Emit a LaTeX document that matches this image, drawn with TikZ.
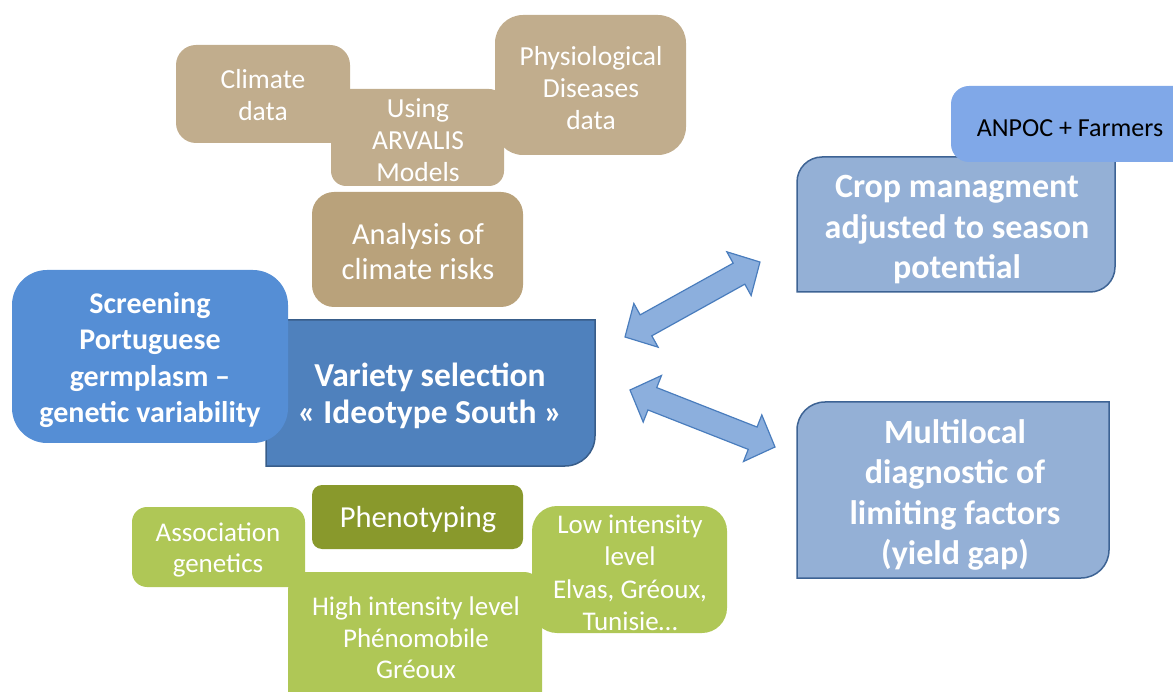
\documentclass[tikz,border=0pt]{standalone}
\usepackage{fontspec}
\setmainfont{Carlito}
\definecolor{tanA}{HTML}{C1AD8D}
\definecolor{tanB}{HTML}{B9A27B}
\definecolor{blueS}{HTML}{558ED5}
\definecolor{blueV}{HTML}{4F81BD}
\definecolor{blueVb}{HTML}{385D8A}
\definecolor{blueA}{HTML}{80A8E8}
\definecolor{blueC}{HTML}{94B0D6}
\definecolor{blueCb}{HTML}{3D6394}
\definecolor{arrF}{HTML}{8CAFDD}
\definecolor{arrD}{HTML}{4A7DBD}
\definecolor{greenA}{HTML}{AFC756}
\definecolor{greenP}{HTML}{89992C}
\tikzset{
  lbl/.style={text=white, align=center, inner sep=0pt},
  tantxt/.style={lbl, font=\fontsize{27.5}{32}\selectfont},
  bigtxt/.style={lbl, font=\fontsize{30.5}{35}\selectfont},
  boldtxt/.style={lbl, font=\bfseries\fontsize{30}{36.5}\selectfont},
  bluetxt/.style={lbl, font=\bfseries\fontsize{34}{40.5}\selectfont},
  greentxt/.style={lbl, font=\fontsize{27}{31.5}\selectfont},
  dblarrow/.style={fill=arrF, draw=arrD, line width=1.2pt, line join=miter},
}
\begin{document}
\begin{tikzpicture}[x=1pt,y=-1pt]
\useasboundingbox (0,0) rectangle (1173,692);
\clip (0,0) rectangle (1173,692);
% tan boxes
\fill[tanA, rounded corners=20pt] (176,45) rectangle (350,143);
\fill[tanA, rounded corners=15pt] (331,89) rectangle (504,186);
\fill[tanA, rounded corners=28pt] (495,15) rectangle (686,155);
\fill[tanB, rounded corners=22pt] (312,192) rectangle (523,307);
% variety box
\draw[fill=blueV, draw=blueVb, line width=1.5pt] (266,320) -- (595,320) -- (595,436)
  .. controls (595,452.6) and (581.6,466) .. (565,466) -- (266,466) -- cycle;
% screening
\fill[blueS, rounded corners=35pt] (12,270) rectangle (288,443);
% crop box
\draw[fill=blueC, draw=blueCb, line width=1.5pt] (822,157) -- (1115,157) -- (1115,267)
  .. controls (1115,280.8) and (1103.8,292) .. (1090,292) -- (797,292) -- (797,182)
  .. controls (797,168.2) and (808.2,157) .. (822,157) -- cycle;
% anpoc
\fill[blueA, rounded corners=18pt] (951,86) rectangle (1200,162);
% multilocal
\draw[fill=blueC, draw=blueCb, line width=1.5pt] (825,402) -- (1109,402) -- (1109,550)
  .. controls (1109,565.5) and (1096.5,578) .. (1081,578) -- (797,578) -- (797,430)
  .. controls (797,414.5) and (809.5,402) .. (825,402) -- cycle;
% green boxes
\fill[greenA, rounded corners=15pt] (132,507) rectangle (305,587);
\fill[greenA, rounded corners=18pt] (288,572) rectangle (542,720);
\fill[greenA, rounded corners=25pt] (532,506) rectangle (727,633);
\fill[greenP, rounded corners=10pt] (312,485) rectangle (523,549);
% arrows
\coordinate (a1) at (625,337);
\coordinate (a2) at (760,262);
\coordinate (b1) at (630,390);
\coordinate (b2) at (775,447);
\begin{scope}[shift={(a1)}, rotate=29.05]
\draw[dblarrow] (0,0) -- (24,25) -- (24,12) -- (130.4,12) -- (130.4,25) -- (154.4,0)
  -- (130.4,-25) -- (130.4,-12) -- (24,-12) -- (24,-25) -- cycle;
\end{scope}
\begin{scope}[shift={(b1)}, rotate=-21.46]
\draw[dblarrow] (0,0) -- (24,25) -- (24,12) -- (131.8,12) -- (131.8,25) -- (155.8,0)
  -- (131.8,-25) -- (131.8,-12) -- (24,-12) -- (24,-25) -- cycle;
\end{scope}
% texts
\node[tantxt] (climate) at (263,95) {Climate\\data};
\node[tantxt] (using) at (418,140) {Using\\ARVALIS\\Models};
\node[tantxt] (physio) at (591,88) {Physiological\\Diseases\\data};
\node[bigtxt] (analysis) at (418,252) {Analysis of\\climate risks};
\node[boldtxt] (screen) at (150,360) {Screening\\Portuguese\\germplasm --\\gene\-tic variability};
\node[lbl, font=\bfseries\fontsize{33.5}{37}\selectfont] (variety) at (430,396) {Variety selection\\« Ideotype South »};
\node[lbl, text=black, font=\fontsize{26}{30}\selectfont] (anpoc) at (1070,128) {ANPOC + Farmers};
\node[bluetxt] (crop) at (957,230) {Crop managment\\adjusted to season\\potential};
\node[bluetxt] (multi) at (955,495) {Multilocal\\diagnostic of\\limiting factors\\(yield gap)};
\node[lbl, font=\fontsize{30.5}{34}\selectfont] (pheno) at (418,520) {Phenotyping};
\node[greentxt] (assoc) at (218,550) {Association\\genetics};
\node[greentxt] (high) at (416,638) {High intensity level\\Phénomobile\\Gréoux};
\node[greentxt] (low) at (630,573) {Low intensity\\level\\[2pt]Elvas, Gréoux,\\Tunisie…};
\end{tikzpicture}
\end{document}
